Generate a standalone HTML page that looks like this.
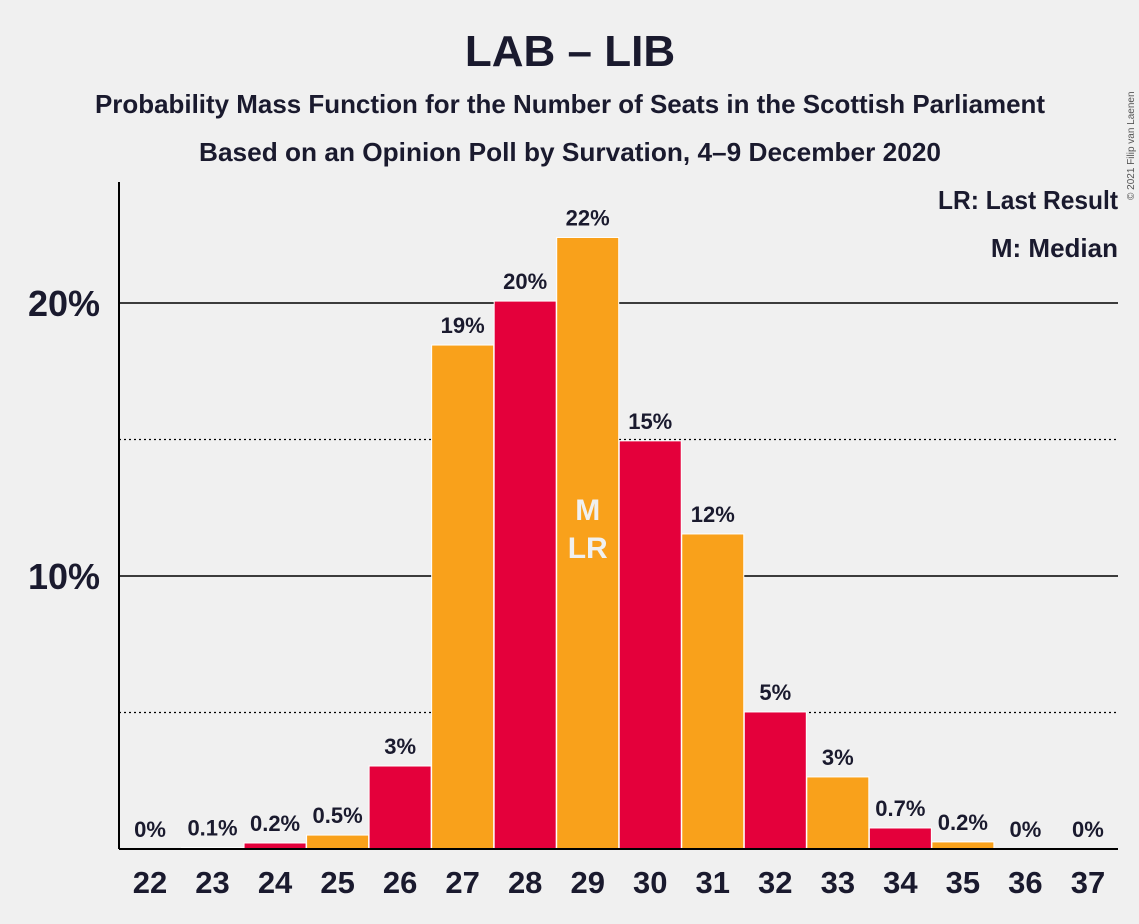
<!DOCTYPE html>
<html><head><meta charset="utf-8"><style>
body{margin:0;background:#f0f0f0;}
svg{display:block;font-family:"Liberation Sans",sans-serif;}
</style></head><body>
<svg id="chart" width="1139" height="924" viewBox="0 0 1139 924">
<rect width="1139" height="924" fill="#f0f0f0"/>
<text x="570" y="66" text-anchor="middle" font-size="44" font-weight="bold" fill="#1a1a2e">LAB – LIB</text>
<text x="570" y="113" text-anchor="middle" font-size="26" font-weight="bold" fill="#1a1a2e" textLength="950" lengthAdjust="spacingAndGlyphs">Probability Mass Function for the Number of Seats in the Scottish Parliament</text>
<text x="570" y="161" text-anchor="middle" font-size="26" font-weight="bold" fill="#1a1a2e" textLength="742" lengthAdjust="spacingAndGlyphs">Based on an Opinion Poll by Survation, 4–9 December 2020</text>
<text transform="translate(1134,200) rotate(-90)" font-size="10" fill="#555">© 2021 Filip van Laenen</text>
<g id="grid"></g>
<g id="bars"></g>
<line x1="119" y1="182" x2="119" y2="849" stroke="#000" stroke-width="2"/>
<line x1="119" y1="849" x2="1118" y2="849" stroke="#000" stroke-width="2"/>
<text x="1118" y="209" text-anchor="end" font-size="26" font-weight="bold" fill="#1a1a2e" textLength="180" lengthAdjust="spacingAndGlyphs">LR: Last Result</text>
<text x="1118" y="257" text-anchor="end" font-size="26" font-weight="bold" fill="#1a1a2e">M: Median</text>
</svg>
<script>
const seats=[22,23,24,25,26,27,28,29,30,31,32,33,34,35,36,37];
const probs=[0,0.05,0.22,0.51,3.04,18.46,20.07,22.4,14.95,11.54,5.02,2.64,0.77,0.26,0,0];
const valueLabels=["0%","0.1%","0.2%","0.5%","3%","19%","20%","22%","15%","12%","5%","3%","0.7%","0.2%","0%","0%"];
const yTicks=[5,10,15,20];
const yTickLabels=["","10%","","20%"];
const medianSeat=29, lastResultSeat=29;
const NS="http://www.w3.org/2000/svg";
const y=v=>849-v*27.3;
const x=s=>150+(s-22)*62.53;
const grid=document.getElementById('grid'),bars=document.getElementById('bars');
function mk(tag,attrs,parent,txt){const e=document.createElementNS(NS,tag);for(const k in attrs)e.setAttribute(k,attrs[k]);if(txt!==undefined)e.textContent=txt;parent.appendChild(e);return e;}
yTicks.forEach((t,i)=>{
  const major=yTickLabels[i]!=="";
  const l=mk('line',{x1:119,x2:1118,y1:y(t),y2:y(t),stroke:'#000','stroke-width':major?1.5:1.2,'stroke-dasharray':major?'none':'2,3'},grid);
  
  
  if(major){const tx=mk('text',{x:100,y:y(t)+13,'text-anchor':'end','font-size':36,'font-weight':'bold',fill:'#1a1a2e'},grid,yTickLabels[i]);
  
  }
});
seats.forEach((s,i)=>{
  const v=probs[i];
  const r=mk('rect',{x:x(s)-31,y:y(v),width:62,height:849-y(v),fill:s%2===0?'#e4003b':'#f9a11b',stroke:'#fff','stroke-width':1},bars);
  
  
  const vl=mk('text',{x:x(s),y:y(v)-12,'text-anchor':'middle','font-size':22,'font-weight':'bold',fill:'#1a1a2e'},bars,valueLabels[i]);
  
  
  const xl=mk('text',{x:x(s),y:893,'text-anchor':'middle','font-size':31,'font-weight':'bold',fill:'#1a1a2e'},bars,String(s));
  
  
});
const m=mk('text',{x:x(medianSeat),y:520,'text-anchor':'middle','font-size':30,'font-weight':'bold',fill:'#f0f0f0'},bars,'M');


const lr=mk('text',{x:x(lastResultSeat),y:558,'text-anchor':'middle','font-size':30,'font-weight':'bold',fill:'#f0f0f0'},bars,'LR');


</script>
</body></html>
